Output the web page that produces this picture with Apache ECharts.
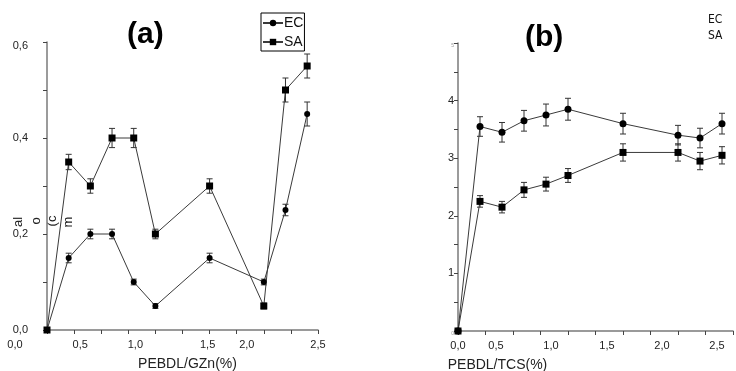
<!DOCTYPE html>
<html>
<head>
<meta charset="utf-8">
<script src="https://cdn.jsdelivr.net/npm/echarts@6/dist/echarts.min.js"></script>
<style>
  html, body { margin: 0; padding: 0; background: #fff; }
  #chart { width: 736px; height: 371px; }
</style>
</head>
<body>
<div id="chart"></div>
<script>
// Additive loading (%) of the two formulations
const xA = [0, 0.2, 0.4, 0.6, 0.8, 1.0, 1.5, 2.0, 2.2, 2.4];
const xB = [0, 0.2, 0.4, 0.6, 0.8, 1.0, 1.5, 2.0, 2.2, 2.4];

// Panel (a): PEBDL/GZn
const ecA    = [0, 0.15, 0.20, 0.20, 0.10, 0.05, 0.15, 0.10, 0.25, 0.45];
const ecAErr = [0, 0.010, 0.010, 0.010, 0.006, 0.005, 0.010, 0.006, 0.012, 0.025];
const saA    = [0, 0.35, 0.30, 0.40, 0.40, 0.20, 0.30, 0.05, 0.50, 0.55];
const saAErr = [0, 0.016, 0.015, 0.020, 0.020, 0.010, 0.015, 0.006, 0.025, 0.025];

// Panel (b): PEBDL/TCS
const ecB    = [0, 3.55, 3.45, 3.65, 3.75, 3.85, 3.60, 3.40, 3.35, 3.60];
const ecBErr = [0, 0.17, 0.17, 0.18, 0.19, 0.19, 0.18, 0.17, 0.17, 0.18];
const saB    = [0, 2.25, 2.15, 2.45, 2.55, 2.70, 3.10, 3.10, 2.95, 3.05];
const saBErr = [0, 0.10, 0.10, 0.13, 0.12, 0.12, 0.15, 0.15, 0.15, 0.15];

// Tick labels
const xTickValsA = [0, 0.5, 1.0, 1.5, 2.0, 2.5];
const xTickLabsA = ['0,0', '0,5', '1,0', '1,5', '2,0', '2,5'];
const yTickValsA = [0, 0.2, 0.4, 0.6];
const yTickLabsA = ['0,0', '0,2', '0,4', '0,6'];
const xTickValsB = [0, 0.5, 1.0, 1.5, 2.0, 2.5];
const xTickLabsB = ['0,0', '0,5', '1,0', '1,5', '2,0', '2,5'];
const yTickValsB = [0, 1, 2, 3, 4, 5];
const yTickLabsB = ['0', '1', '2', '3', '4', '5'];

// Horizontal nudges (px) of the x tick labels, as typeset in the original plots
const labelNudgeA = [-32, -21, -20, -2, -17, 0];
const labelNudgeB = [0, -17, -17, -16, -16, -16];

const FONT = 'Liberation Sans, Arial, sans-serif';
const AXIS_GREY = '#7a7a7a';
const LINE = '#3a3a3a';

function findIdx(vals, v) {
  for (let i = 0; i < vals.length; i++) if (Math.abs(vals[i] - v) < 1e-6) return i;
  return -1;
}

function nudgedRich(nudges) {
  const rich = {};
  nudges.forEach((d, i) => {
    rich['n' + i] = {
      fontSize: 11, fontFamily: FONT, color: '#222',
      padding: d < 0 ? [0, -2 * d, 0, 0] : [0, 0, 0, 2 * d]
    };
  });
  return rich;
}

function xLabelFormatter(vals, labs) {
  return function (v) {
    const i = findIdx(vals, v);
    return i < 0 ? '' : '{n' + i + '|' + labs[i] + '}';
  };
}

function pairs(xs, ys) { return xs.map((x, i) => [x, ys[i]]); }
function triples(xs, ys, es) { return xs.map((x, i) => [x, ys[i], es[i]]); }

function errorBars(params, api) {
  const x = api.value(0), y = api.value(1), e = api.value(2);
  if (!e) return null;
  const top = api.coord([x, y + e]);
  const bot = api.coord([x, y - e]);
  const w = 3;
  const style = { stroke: '#333', lineWidth: 1 };
  return {
    type: 'group',
    children: [
      { type: 'line', shape: { x1: top[0], y1: top[1], x2: bot[0], y2: bot[1] }, style },
      { type: 'line', shape: { x1: top[0] - w, y1: top[1], x2: top[0] + w, y2: top[1] }, style },
      { type: 'line', shape: { x1: bot[0] - w, y1: bot[1], x2: bot[0] + w, y2: bot[1] }, style }
    ]
  };
}

function lineSeries(name, idx, data, symbol, size) {
  return {
    name, type: 'line', xAxisIndex: idx, yAxisIndex: idx, data,
    symbol, symbolSize: size, showSymbol: true,
    lineStyle: { color: LINE, width: 1 },
    itemStyle: { color: '#000' },
    z: 3, animation: false
  };
}

function errSeries(name, idx, data) {
  return {
    name, type: 'custom', xAxisIndex: idx, yAxisIndex: idx, data,
    renderItem: errorBars, encode: { x: 0, y: 1 }, z: 2, animation: false
  };
}

function rotatedWord(text, cx, cy) {
  return {
    type: 'text', x: cx, y: cy, rotation: Math.PI / 2,
    style: { text, font: '13px ' + FONT, fill: '#222', textAlign: 'center', textVerticalAlign: 'middle' }
  };
}

const axisLineStyle = { lineStyle: { color: AXIS_GREY, width: 1.5 } };
const tickStyle = { show: true, length: 4, lineStyle: { color: '#444', width: 1 } };

const chart = echarts.init(document.getElementById('chart'), null, { renderer: 'canvas' });

chart.setOption({
  animation: false,
  backgroundColor: '#fff',
  grid: [
    { left: 47, top: 42, width: 271, height: 288, containLabel: false, outerBoundsMode: 'none' },
    { left: 458, top: 43, width: 275, height: 288, containLabel: false, outerBoundsMode: 'none' }
  ],
  xAxis: [
    {
      gridIndex: 0, type: 'value', min: 0, max: 2.5, interval: 0.25,
      axisLine: axisLineStyle, axisTick: tickStyle, splitLine: { show: false },
      axisLabel: {
        margin: 9, formatter: xLabelFormatter(xTickValsA, xTickLabsA),
        rich: nudgedRich(labelNudgeA), showMinLabel: true, showMaxLabel: true
      },
      name: 'PEBDL/GZn(%)', nameLocation: 'middle', nameGap: 27,
      nameTextStyle: { fontSize: 14, fontFamily: FONT, color: '#222', padding: [0, 0, 0, 10] }
    },
    {
      gridIndex: 1, type: 'value', min: 0, max: 2.5, interval: 0.25,
      axisLine: axisLineStyle, axisTick: tickStyle, splitLine: { show: false },
      axisLabel: {
        margin: 9, formatter: xLabelFormatter(xTickValsB, xTickLabsB),
        rich: nudgedRich(labelNudgeB), showMinLabel: true, showMaxLabel: true
      },
      name: 'PEBDL/TCS(%)', nameLocation: 'middle', nameGap: 27,
      nameTextStyle: { fontSize: 14, fontFamily: FONT, color: '#222', padding: [0, 196, 0, 0] }
    }
  ],
  yAxis: [
    {
      gridIndex: 0, type: 'value', min: 0, max: 0.6, interval: 0.1,
      axisLine: { show: true, lineStyle: { color: AXIS_GREY, width: 1.5 } },
      axisTick: tickStyle, splitLine: { show: false },
      axisLabel: {
        margin: 19, fontSize: 11, fontFamily: FONT, color: '#222',
        formatter: v => {
          const i = findIdx(yTickValsA, v);
          if (i < 0) return '';
          // the top label sits slightly below its tick
          return i === yTickValsA.length - 1 ? '{low|' + yTickLabsA[i] + '}' : yTickLabsA[i];
        },
        rich: { low: { fontSize: 11, fontFamily: FONT, color: '#222', padding: [8, 0, 0, 0] } }
      }
    },
    {
      gridIndex: 1, type: 'value', min: 0, max: 5, interval: 0.5,
      axisLine: { show: true, lineStyle: { color: AXIS_GREY, width: 1.5 } },
      axisTick: tickStyle, splitLine: { show: false },
      axisLabel: {
        margin: 4, fontSize: 11, fontFamily: FONT, color: '#222',
        formatter: v => {
          const i = findIdx(yTickValsB, v);
          if (i < 0) return '';
          return (v === 0 || v === 5) ? '{tiny|' + yTickLabsB[i] + '}' : yTickLabsB[i];
        },
        rich: { tiny: { fontSize: 5, color: '#999', fontFamily: FONT, padding: [6, 0, 0, 0] } }
      }
    }
  ],
  legend: [
    {
      data: ['EC', 'SA'], orient: 'vertical', left: 261, top: 13,
      itemWidth: 20, itemHeight: 8, itemGap: 5, padding: [3, 1, 2, 1],
      borderColor: '#000', borderWidth: 1, selectedMode: false,
      textStyle: { fontSize: 14, fontFamily: FONT, color: '#111', padding: [0, 0, 0, -4] }
    },
    {
      data: ['EC', 'SA'], orient: 'vertical', left: 697, top: 9,
      icon: 'none', itemWidth: 1, itemHeight: 10, itemGap: 4, selectedMode: false,
      textStyle: { fontSize: 12, fontFamily: 'DejaVu Sans Condensed, Liberation Sans Narrow, sans-serif', color: '#111' }
    }
  ],
  graphic: [
    { type: 'text', left: 127, top: 20, style: { text: '(a)', font: 'bold 30px ' + FONT, fill: '#000' } },
    { type: 'text', left: 525, top: 23, style: { text: '(b)', font: 'bold 30px ' + FONT, fill: '#000' } },
    // fragments of the rotated y-axis caption of panel (a)
    rotatedWord('al', 18, 222),
    rotatedWord('o', 36, 221),
    rotatedWord('(c', 52, 221),
    rotatedWord('m', 68, 222)
  ],
  series: [
    errSeries('EC error (a)', 0, triples(xA, ecA, ecAErr)),
    errSeries('SA error (a)', 0, triples(xA, saA, saAErr)),
    lineSeries('EC', 0, pairs(xA, ecA), 'circle', 6),
    lineSeries('SA', 0, pairs(xA, saA), 'rect', 7),
    errSeries('EC error (b)', 1, triples(xB, ecB, ecBErr)),
    errSeries('SA error (b)', 1, triples(xB, saB, saBErr)),
    lineSeries('EC', 1, pairs(xB, ecB), 'circle', 7),
    lineSeries('SA', 1, pairs(xB, saB), 'rect', 7)
  ]
});
</script>
</body>
</html>
